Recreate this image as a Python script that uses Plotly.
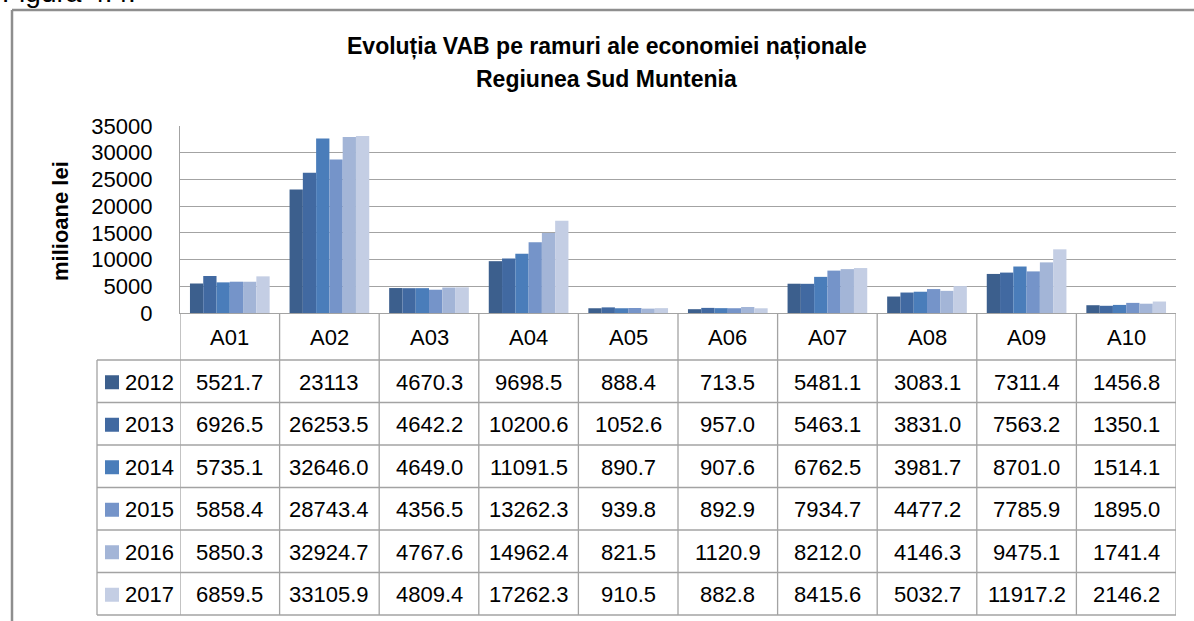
import plotly.graph_objects as go

# ---------------- data ----------------
categories = ["A01", "A02", "A03", "A04", "A05", "A06", "A07", "A08", "A09", "A10"]
years = ["2012", "2013", "2014", "2015", "2016", "2017"]
v2012 = [5521.7, 23113, 4670.3, 9698.5, 888.4, 713.5, 5481.1, 3083.1, 7311.4, 1456.8]
v2013 = [6926.5, 26253.5, 4642.2, 10200.6, 1052.6, 957.0, 5463.1, 3831.0, 7563.2, 1350.1]
v2014 = [5735.1, 32646.0, 4649.0, 11091.5, 890.7, 907.6, 6762.5, 3981.7, 8701.0, 1514.1]
v2015 = [5858.4, 28743.4, 4356.5, 13262.3, 939.8, 892.9, 7934.7, 4477.2, 7785.9, 1895.0]
v2016 = [5850.3, 32924.7, 4767.6, 14962.4, 821.5, 1120.9, 8212.0, 4146.3, 9475.1, 1741.4]
v2017 = [6859.5, 33105.9, 4809.4, 17262.3, 910.5, 882.8, 8415.6, 5032.7, 11917.2, 2146.2]
series = [v2012, v2013, v2014, v2015, v2016, v2017]
colors = ["#3C5F8D", "#4169A1", "#4A7DBA", "#7594C9", "#A3B5D7", "#C4CEE4"]
y_ticks = [0, 5000, 10000, 15000, 20000, 25000, 30000, 35000]

title1 = "Evoluția VAB pe ramuri ale economiei naționale"
title2 = "Regiunea Sud Muntenia"
y_title = "milioane lei"
fig_label = "Figura 4.4."

# ---------------- layout geometry (pixels) ----------------
W, H = 1194, 621
PL, PR, PT, PB = 180, 1176, 126, 313   # plot area
FONT = "Liberation Sans, Arial, sans-serif"
GRID = "#A3A3A3"


def px2x(px):
    return (px - PL) / (PR - PL)


def py2y(py):
    return (PB - py) / (PB - PT)


def fmt(v):
    return str(v) if isinstance(v, int) else f"{v:.1f}"


fig = go.Figure()
for yr, vals, col in zip(years, series, colors):
    fig.add_trace(go.Bar(x=categories, y=vals, name=yr, marker=dict(color=col, line=dict(width=0)),
                         showlegend=False))

shapes = []
annotations = []

TABLE_LEFT = 97
header_bottom = 360
row_h = 42.5
row_tops = [header_bottom + i * row_h for i in range(len(years) + 1)]

# vertical table lines (category columns follow the x axis)
for i in range(len(categories) + 1):
    shapes.append(dict(type="line", xref="x", yref="paper", x0=i - 0.5, x1=i - 0.5,
                       y0=py2y(PB), y1=py2y(row_tops[-1]), line=dict(color=GRID, width=1.3)))
shapes.append(dict(type="line", xref="paper", yref="paper", x0=px2x(TABLE_LEFT), x1=px2x(TABLE_LEFT),
                   y0=py2y(row_tops[0]), y1=py2y(row_tops[-1]), line=dict(color=GRID, width=1.3)))
# horizontal table lines
for t in row_tops:
    shapes.append(dict(type="line", xref="paper", yref="paper", x0=px2x(TABLE_LEFT), x1=1,
                       y0=py2y(t), y1=py2y(t), line=dict(color=GRID, width=1.3)))

# header labels
for c in categories:
    annotations.append(dict(x=c, xref="x", y=py2y((PB + header_bottom) / 2 + 1), yref="paper",
                            text=c, showarrow=False, font=dict(family=FONT, size=22, color="#000000"),
                            xanchor="center", yanchor="middle"))

# data rows
for r, (yr, vals, col) in enumerate(zip(years, series, colors)):
    yc = row_tops[r] + row_h / 2 + 1
    for c, v in zip(categories, vals):
        annotations.append(dict(x=c, xref="x", y=py2y(yc), yref="paper", text=fmt(v), showarrow=False,
                                font=dict(family=FONT, size=22, color="#000000"),
                                xanchor="center", yanchor="middle"))
    shapes.append(dict(type="rect", xref="paper", yref="paper", x0=px2x(105), x1=px2x(119),
                       y0=py2y(yc - 7), y1=py2y(yc + 7), fillcolor=col, line=dict(width=0)))
    annotations.append(dict(x=px2x(123), xref="paper", y=py2y(yc), yref="paper", text=yr,
                            showarrow=False, font=dict(family=FONT, size=22, color="#000000"),
                            xanchor="left", yanchor="middle"))

# outer frame (partially visible)
shapes.append(dict(type="line", xref="paper", yref="paper", x0=px2x(12), x1=px2x(W + 10),
                   y0=py2y(10), y1=py2y(10), line=dict(color="#8E8E8E", width=2.5)))
shapes.append(dict(type="line", xref="paper", yref="paper", x0=px2x(12), x1=px2x(12),
                   y0=py2y(10), y1=py2y(H + 10), line=dict(color="#8E8E8E", width=2.5)))

# titles
annotations.append(dict(x=px2x(607), xref="paper", y=py2y(46), yref="paper", text=f"<b>{title1}</b>",
                        showarrow=False, font=dict(family=FONT, size=23, color="#000000"),
                        xanchor="center", yanchor="middle"))
annotations.append(dict(x=px2x(606), xref="paper", y=py2y(79), yref="paper", text=f"<b>{title2}</b>",
                        showarrow=False, font=dict(family=FONT, size=23, color="#000000"),
                        xanchor="center", yanchor="middle"))
annotations.append(dict(x=px2x(60), xref="paper", y=py2y(221), yref="paper", text=f"<b>{y_title}</b>",
                        showarrow=False, textangle=-90, font=dict(family=FONT, size=22, color="#000000"),
                        xanchor="center", yanchor="middle"))
annotations.append(dict(x=px2x(0), xref="paper", y=py2y(10), yref="paper", text=fig_label,
                        showarrow=False, font=dict(family=FONT, size=28, color="#000000"),
                        xanchor="left", yanchor="bottom"))

fig.update_layout(
    width=W, height=H,
    margin=dict(l=PL, r=W - PR, t=PT, b=H - PB, pad=0),
    paper_bgcolor="white", plot_bgcolor="white",
    barmode="group", bargap=0.2, bargroupgap=0,
    shapes=shapes, annotations=annotations,
    xaxis=dict(type="category", range=[-0.5, len(categories) - 0.5], autorange=False,
               showticklabels=False, showgrid=False, showline=True,
               linecolor=GRID, linewidth=1.3, ticks="", zeroline=False, fixedrange=True),
    yaxis=dict(range=[0, 35000], autorange=False, tickvals=y_ticks, ticktext=[str(t) for t in y_ticks],
               showgrid=True, gridcolor=GRID, gridwidth=1.3, showline=True, linecolor=GRID,
               linewidth=1.3, zeroline=False, ticks="", ticklabelstandoff=22,
               tickfont=dict(family=FONT, size=22, color="#000000"), fixedrange=True),
    font=dict(family=FONT),
)

fig.write_html("out.html", config={"displayModeBar": False},
               post_script="document.body.style.margin='0';document.body.style.overflow='hidden';")
